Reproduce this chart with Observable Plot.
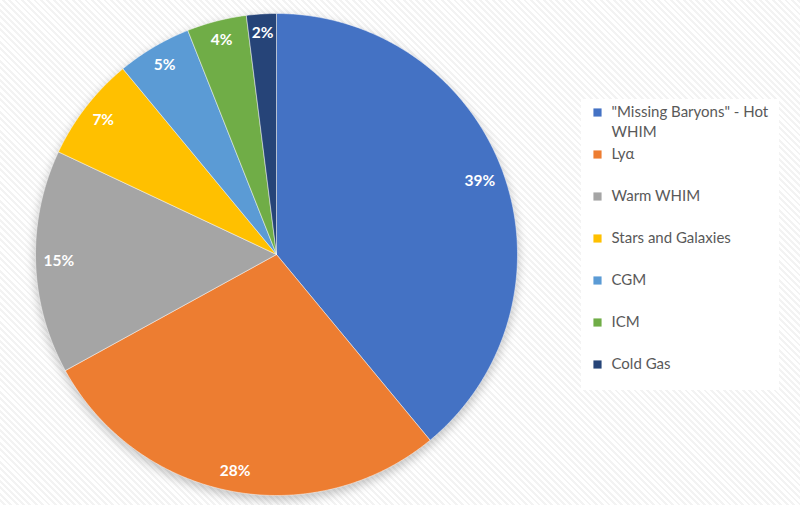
<!DOCTYPE html>
<html>
<head>
<meta charset="utf-8">
<script src="https://cdn.jsdelivr.net/npm/d3@7"></script>
<script src="https://cdn.jsdelivr.net/npm/@observablehq/plot@0.6"></script>
<style>
  html, body { margin: 0; padding: 0; }
  body {
    width: 800px; height: 505px; overflow: hidden;
    background: repeating-linear-gradient(45deg, #ffffff 0px, #ffffff 2.5px, #f3f3f3 2.5px, #f3f3f3 4.5px);
  }
  #chart svg { display: block; background: transparent; }
</style>
</head>
<body>
<div id="chart"></div>
<script>
const categories = ["\"Missing Baryons\" - Hot WHIM", "Lyα", "Warm WHIM", "Stars and Galaxies", "CGM", "ICM", "Cold Gas"];
const values = [39, 28, 15, 7, 5, 4, 2];
const labels = ["39%", "28%", "15%", "7%", "5%", "4%", "2%"];
const colors = ["#4472C4", "#ED7D31", "#A5A5A5", "#FFC000", "#5B9BD5", "#70AD47", "#264478"];

const W = 800, H = 505;
const cx = 276, cy = 254, R = 241;
const font = "Lato, 'Open Sans', sans-serif";

const arcs = d3.pie().sort(null).value(d => d.value)(categories.map((c, i) => ({cat: c, value: values[i], label: labels[i]})));

// polygon points for each slice (angle 0 at top, clockwise; screen y down)
const slicePts = [];
arcs.forEach(a => {
  const n = Math.max(4, Math.ceil((a.endAngle - a.startAngle) / 0.01));
  slicePts.push({cat: a.data.cat, px: cx, py: cy});
  for (let k = 0; k <= n; k++) {
    const t = a.startAngle + (a.endAngle - a.startAngle) * k / n;
    slicePts.push({cat: a.data.cat, px: cx + R * Math.sin(t), py: cy - R * Math.cos(t)});
  }
  slicePts.push({cat: a.data.cat, px: cx, py: cy});
});

// inside-end label placement: box's farthest corner sits at R - 10
const labelPts = arcs.map(a => {
  const m = (a.startAngle + a.endAngle) / 2;
  const ux = Math.sin(m), uy = -Math.cos(m);
  const w = a.data.label.length * 8.6, h = 16;
  const c = [Math.sign(ux) * w / 2, Math.sign(uy) * h / 2];
  const b = 2 * (ux * c[0] + uy * c[1]);
  const Rp = R - 10;
  const t = (-b + Math.sqrt(b * b - 4 * (c[0] * c[0] + c[1] * c[1] - Rp * Rp))) / 2;
  return {label: a.data.label, px: cx + t * ux, py: cy + t * uy};
});

// legend
const lgX = 597, lgY0 = 112, lgStep = 42;
const legend = categories.map((c, i) => ({cat: c, px: lgX, py: lgY0 + i * lgStep}));

const chart = Plot.plot({
  width: W, height: H,
  margin: 0,
  style: {background: "transparent", overflow: "visible"},
  x: {type: "linear", domain: [0, W], range: [0, W], axis: null},
  y: {type: "linear", domain: [0, H], range: [0, H], axis: null},
  color: {type: "ordinal", domain: categories, range: colors},
  marks: [
    // soft shadow beneath pie
    Plot.dot([{px: cx, py: cy + 4}], {x: "px", y: "py", r: R + 1, fill: "#000", fillOpacity: 0.22, stroke: "none", imageFilter: "blur(5px)"}),
    Plot.line(slicePts, {x: "px", y: "py", z: "cat", fill: "cat", stroke: "#ffffff", strokeWidth: 0.8, strokeOpacity: 0.6, curve: "linear"}),
    Plot.text(labelPts, {x: "px", y: "py", text: "label", fill: "white", fontSize: 15.5, fontWeight: "bold", fontFamily: font}),
    // legend box
    Plot.rect([{x1: 581, x2: 779, y1: 99, y2: 390}], {x1: "x1", x2: "x2", y1: "y1", y2: "y2", fill: "white"}),
    Plot.dot(legend, {x: "px", y: "py", symbol: "square", r: 4.6, fill: "cat", stroke: "none"}),
    Plot.text(legend, {x: d => d.px + 14, y: d => d.py - 10, text: "cat", textAnchor: "start", lineAnchor: "top", lineWidth: 13.5, lineHeight: 1.33, fill: "#595959", fontSize: 15, fontFamily: font})
  ]
});
document.getElementById("chart").appendChild(chart);
</script>
</body>
</html>
